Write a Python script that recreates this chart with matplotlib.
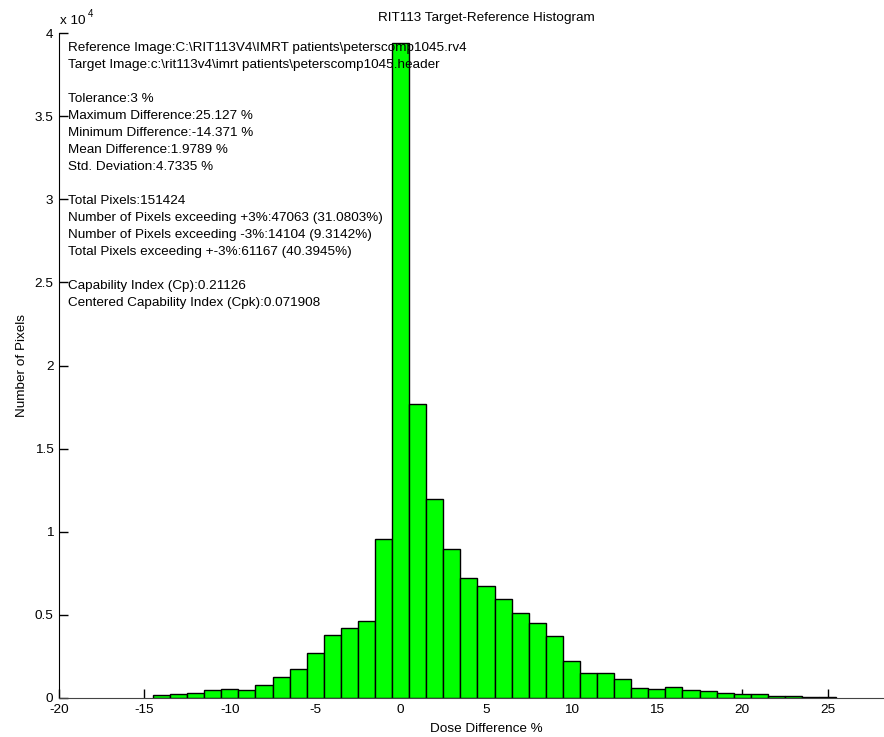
import numpy as np
import matplotlib
matplotlib.use('Agg')
import matplotlib.pyplot as plt

plt.rcParams['font.family'] = ['Liberation Sans', 'DejaVu Sans']
plt.rcParams['axes.unicode_minus'] = False

# histogram bins (centers, % dose difference) and counts
bin_centers = list(range(-14, 26))
counts = [200, 260, 320, 460, 520, 500, 760, 1280, 1720, 2690,
          3770, 4190, 4650, 9550, 39400, 17700, 11950, 8980, 7240, 6740,
          5980, 5140, 4510, 3750, 2230, 1530, 1530, 1130, 630, 550,
          640, 500, 400, 320, 260, 240, 140, 120, 60, 60]

x_ticks = [-20, -15, -10, -5, 0, 5, 10, 15, 20, 25]
y_ticks = [0, 5000, 10000, 15000, 20000, 25000, 30000, 35000, 40000]
y_labels = ['0', '0.5', '1', '1.5', '2', '2.5', '3', '3.5', '4']

info_lines = [
    'Reference Image:C:\\RIT113V4\\IMRT patients\\peterscomp1045.rv4',
    'Target Image:c:\\rit113v4\\imrt patients\\peterscomp1045.header',
    '',
    'Tolerance:3 %',
    'Maximum Difference:25.127 %',
    'Minimum Difference:-14.371 %',
    'Mean Difference:1.9789 %',
    'Std. Deviation:4.7335 %',
    '',
    'Total Pixels:151424',
    'Number of Pixels exceeding +3%:47063 (31.0803%)',
    'Number of Pixels exceeding -3%:14104 (9.3142%)',
    'Total Pixels exceeding +-3%:61167 (40.3945%)',
    '',
    'Capability Index (Cp):0.21126',
    'Centered Capability Index (Cpk):0.071908',
]

W, H = 884, 737
fs = 9.7
fig = plt.figure(figsize=(W / 100, H / 100), dpi=100)
# axes runs a bit past the right edge, like the cropped original
ax = fig.add_axes([59 / W, 1 - 698 / H, (913 - 59) / W, (698 - 33) / H])

ax.bar(bin_centers, counts, width=1.0, color='#00ff00',
       edgecolor='black', linewidth=1.0, zorder=2)

ax.set_xlim(-20, 30)
ax.set_ylim(0, 40000)
ax.set_xticks(x_ticks)
ax.set_yticks(y_ticks)
ax.set_yticklabels(y_labels)
ax.tick_params(direction='in', length=6.5, width=1, labelsize=fs, pad=4)

for s in ['top', 'right']:
    ax.spines[s].set_visible(False)
ax.spines['left'].set_color('black')
ax.spines['bottom'].set_color('#444444')

ax.set_title('RIT113 Target-Reference Histogram', fontsize=fs, pad=9)
ax.set_xlabel('Dose Difference %', fontsize=fs, labelpad=5)
ax.set_ylabel('Number of Pixels', fontsize=fs, labelpad=4.5)

# exponent label
fig.text(60 / W, 1 - 21 / H, 'x 10', fontsize=fs, va='center', ha='left')
fig.text(88 / W, 1 - 14 / H, '4', fontsize=7, va='center', ha='left')

for i, line in enumerate(info_lines):
    if line:
        fig.text(68 / W, 1 - (48 + 17 * i) / H, line, fontsize=fs,
                 va='center', ha='left', zorder=5)

fig.savefig('out.png', dpi=100)
